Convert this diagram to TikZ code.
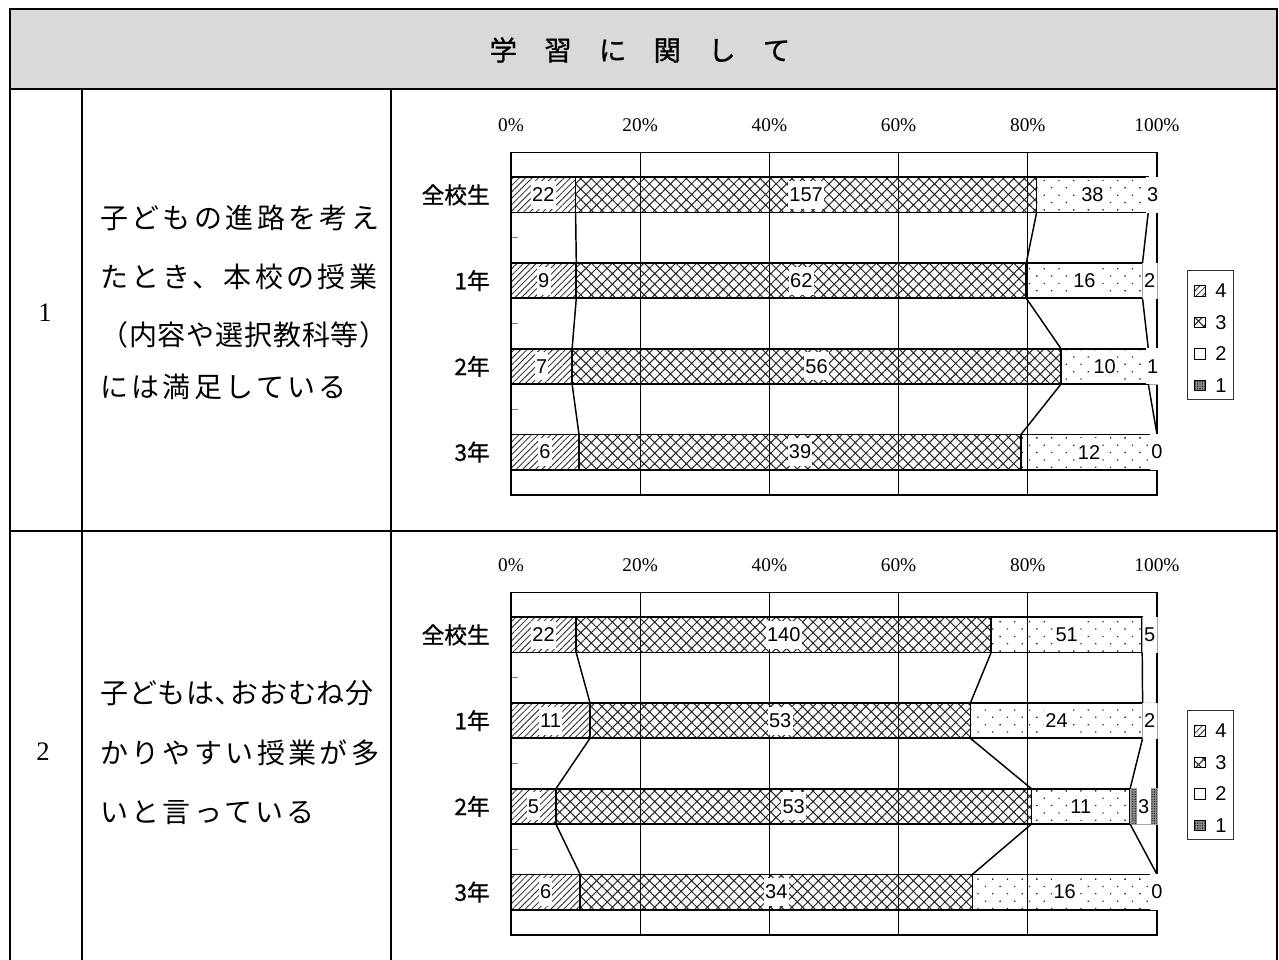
\documentclass[tikz,border=0pt]{standalone}
\usepackage{fontspec}
\setmainfont{Liberation Serif}
\newfontfamily\jpgoth{Noto Sans CJK JP}
\newfontfamily\jpcat[FakeBold=1]{Noto Sans CJK JP}
\newfontfamily\jpbody[LetterSpace=12]{Noto Sans CJK JP}
\newfontfamily\jptight[LetterSpace=3]{Noto Sans CJK JP}
\newfontfamily\numsans{Liberation Sans}
\usetikzlibrary{patterns.meta,positioning}

\begin{document}
\begin{tikzpicture}[x=0.75pt,y=-0.75pt,
  frame/.style={line width=1.5pt},
  grid/.style={line width=0.75pt},
  bar/.style={draw,line width=1.3pt},
  barend/.style={draw=black!35,line width=0.4pt,h1},
  h4/.style={pattern={Lines[angle=45,distance=3.4pt,line width=0.6pt]},pattern color=black!85},
  h3/.style={pattern={Hatch[angle=45,distance=5.6pt,line width=0.75pt]},pattern color=black!85},
  h2/.style={pattern={Dots[angle=45,distance=7.8pt,radius=0.7pt]},pattern color=black!85},
  h1/.style={preaction={fill=black!45},pattern={Dots[distance=1.8pt,radius=0.45pt]},pattern color=black},
  ser/.style={line width=1.1pt},
  pct/.style={font=\fontsize{14.5}{16}\selectfont},
  cat/.style={font=\jpcat\fontsize{17}{18}\selectfont,anchor=east,inner sep=0pt},
  val/.style={font=\numsans\fontsize{15}{16}\selectfont,fill=white,inner xsep=1pt,inner ysep=0pt,minimum height=21pt},
  valend/.style={val,minimum height=27pt},
  key/.style={draw,line width=0.8pt,minimum size=8pt,inner sep=0pt},
  keytxt/.style={font=\numsans\fontsize{15}{16}\selectfont,inner sep=1pt,right=6pt of #1},
  body/.style={font=\jpbody\fontsize{21}{22}\selectfont,anchor=west,inner sep=0pt},
  bodytight/.style={body,font=\jptight\fontsize{21}{22}\selectfont},
  num/.style={font=\fontsize{20}{22}\selectfont}]
\useasboundingbox (0,0) rectangle (1279,960);
\fill[white] (0,0) rectangle (1279,960);
\fill[black!15] (10,9) rectangle (1277,89);
\draw[frame] (10,961) -- (10,9) -- (1277,9) -- (1277,961);
\draw[frame] (10,89) -- (1277,89) (10,531) -- (1277,531) (82,89) -- (82,961) (391,89) -- (391,961);
\node[font=\jpcat\fontsize{20.5}{22}\selectfont] (title) at (640,50) {学　習　に　関　し　て};

\node[num] (no1) at (45,313) {1};
\node[body] (q1a) at (100,218.3) {子どもの進路を考え};
\node[body] (q1b) at (100,276.7) {たとき、本校の授業};
\node[bodytight] (q1c) at (100,335) {（内容や選択教科等）};
\node[body] (q1d) at (100,386.7) {には満足している};
\node[num] (no2) at (43,752) {2};
\node[bodytight] (q2a) at (100,692.7) {子どもは､おおむね分};
\node[body] (q2b) at (100,752.3) {かりやすい授業が多};
\node[body] (q2c) at (100,813) {いと言っている};

\begin{scope}
\draw[grid] (640.2,152.3) -- (640.2,495) (769.4,152.3) -- (769.4,495) (898.6,152.3) -- (898.6,495) (1027.8,152.3) -- (1027.8,495);
\draw[grid,black!50] (511,237.75) -- (518,237.75) (511,323.5) -- (518,323.5) (511,409.25) -- (518,409.25);
\draw[line width=1.1pt] (511,152.3) rectangle (1157,495);
\node[pct] (q1p0) at (511,125) {0\%};
\node[pct] (q1p20) at (640.2,125) {20\%};
\node[pct] (q1p40) at (769.4,125) {40\%};
\node[pct] (q1p60) at (898.6,125) {60\%};
\node[pct] (q1p80) at (1027.8,125) {80\%};
\node[pct] (q1p100) at (1157,125) {100\%};
\node[cat] (q1all) at (490,194.9) {全校生};
\node[cat] (q1y1) at (490,280.6) {1年};
\node[cat] (q1y2) at (490,366.4) {2年};
\node[cat] (q1y3) at (490,452.1) {3年};
\draw[bar,h4] (511,177.2) rectangle (575.6,212.6);
\draw[bar,h3] (575.6,177.2) rectangle (1036.6,212.6);
\draw[bar,h2] (1036.6,177.2) rectangle (1148.2,212.6);
\draw[barend] (1148.2,177.2) rectangle (1157,212.6);
\draw[bar,h4] (511,262.9) rectangle (576.3,298.3);
\draw[bar,h3] (576.3,262.9) rectangle (1026.3,298.3);
\draw[bar,h2] (1026.3,262.9) rectangle (1142.5,298.3);
\draw[barend] (1142.5,262.9) rectangle (1157,298.3);
\draw[bar,h4] (511,348.7) rectangle (572.1,384.1);
\draw[bar,h3] (572.1,348.7) rectangle (1061.0,384.1);
\draw[bar,h2] (1061.0,348.7) rectangle (1148.3,384.1);
\draw[barend] (1148.3,348.7) rectangle (1157,384.1);
\draw[bar,h4] (511,434.4) rectangle (579.0,469.8);
\draw[bar,h3] (579.0,434.4) rectangle (1021.0,469.8);
\draw[bar,h2] (1021.0,434.4) rectangle (1157,469.8);
\draw[ser] (575.6,212.6) -- (576.3,262.9) (576.3,298.3) -- (572.1,348.7) (572.1,384.1) -- (579.0,434.4);
\draw[ser] (1036.6,212.6) -- (1026.3,262.9) (1026.3,298.3) -- (1061.0,348.7) (1061.0,384.1) -- (1021.0,434.4);
\draw[ser] (1148.2,212.6) -- (1142.5,262.9) (1142.5,298.3) -- (1148.3,348.7) (1148.3,384.1) -- (1157,434.4);
\node[val] (q1all4) at (543.3,194.9) {22};
\node[val] (q1all3) at (806.1,194.9) {157};
\node[val] (q1all2) at (1092.4,194.9) {38};
\node[valend] (q1all1) at (1152.6,194.9) {3};
\node[val] (q1y14) at (543.7,280.6) {9};
\node[val] (q1y13) at (801.3,280.6) {62};
\node[val] (q1y12) at (1084.4,280.6) {16};
\node[valend] (q1y11) at (1149.8,280.6) {2};
\node[val] (q1y24) at (541.6,366.4) {7};
\node[val] (q1y23) at (816.6,366.4) {56};
\node[val] (q1y22) at (1104.7,366.4) {10};
\node[valend] (q1y21) at (1152.7,366.4) {1};
\node[val] (q1y34) at (545.0,452.1) {6};
\node[val] (q1y33) at (800.0,452.1) {39};
\node[val] (q1y32) at (1089.0,452.1) {12};
\node[valend] (q1y31) at (1157,452.1) {0};
\draw[draw=black!80,line width=0.7pt] (1187.3,270.7) rectangle (1233.3,399);
\node[key,h4] (q1k4) at (1200,291) {};
\node[key,h3] (q1k3) at (1200,322.5) {};
\node[key] (q1k2) at (1200,354) {};
\node[key,h1] (q1k1) at (1200,385.5) {};
\node[keytxt=q1k4] (q1t4) {4};
\node[keytxt=q1k3] (q1t3) {3};
\node[keytxt=q1k2] (q1t2) {2};
\node[keytxt=q1k1] (q1t1) {1};
\end{scope}

\begin{scope}[shift={(0,440)}]
\draw[grid] (640.2,152.3) -- (640.2,495) (769.4,152.3) -- (769.4,495) (898.6,152.3) -- (898.6,495) (1027.8,152.3) -- (1027.8,495);
\draw[grid,black!50] (511,237.75) -- (518,237.75) (511,323.5) -- (518,323.5) (511,409.25) -- (518,409.25);
\draw[line width=1.1pt] (511,152.3) rectangle (1157,495);
\node[pct] (q2p0) at (511,125) {0\%};
\node[pct] (q2p20) at (640.2,125) {20\%};
\node[pct] (q2p40) at (769.4,125) {40\%};
\node[pct] (q2p60) at (898.6,125) {60\%};
\node[pct] (q2p80) at (1027.8,125) {80\%};
\node[pct] (q2p100) at (1157,125) {100\%};
\node[cat] (q2all) at (490,194.9) {全校生};
\node[cat] (q2y1) at (490,280.6) {1年};
\node[cat] (q2y2) at (490,366.4) {2年};
\node[cat] (q2y3) at (490,452.1) {3年};
\draw[bar,h4] (511,177.2) rectangle (576.2,212.6);
\draw[bar,h3] (576.2,177.2) rectangle (991.1,212.6);
\draw[bar,h2] (991.1,177.2) rectangle (1142.2,212.6);
\draw[barend] (1142.2,177.2) rectangle (1157,212.6);
\draw[bar,h4] (511,262.9) rectangle (590.0,298.3);
\draw[bar,h3] (590.0,262.9) rectangle (970.4,298.3);
\draw[bar,h2] (970.4,262.9) rectangle (1142.6,298.3);
\draw[barend] (1142.6,262.9) rectangle (1157,298.3);
\draw[bar,h4] (511,348.7) rectangle (555.9,384.1);
\draw[bar,h3] (555.9,348.7) rectangle (1031.4,384.1);
\draw[bar,h2] (1031.4,348.7) rectangle (1130.1,384.1);
\draw[barend] (1130.1,348.7) rectangle (1157,384.1);
\draw[bar,h4] (511,434.4) rectangle (580.2,469.8);
\draw[bar,h3] (580.2,434.4) rectangle (972.4,469.8);
\draw[bar,h2] (972.4,434.4) rectangle (1157,469.8);
\draw[ser] (576.2,212.6) -- (590.0,262.9) (590.0,298.3) -- (555.9,348.7) (555.9,384.1) -- (580.2,434.4);
\draw[ser] (991.1,212.6) -- (970.4,262.9) (970.4,298.3) -- (1031.4,348.7) (1031.4,384.1) -- (972.4,434.4);
\draw[ser] (1142.2,212.6) -- (1142.6,262.9) (1142.6,298.3) -- (1130.1,348.7) (1130.1,384.1) -- (1157,434.4);
\node[val] (q2all4) at (543.6,194.9) {22};
\node[val] (q2all3) at (783.7,194.9) {140};
\node[val] (q2all2) at (1066.7,194.9) {51};
\node[valend] (q2all1) at (1149.6,194.9) {5};
\node[val] (q2y14) at (550.5,280.6) {11};
\node[val] (q2y13) at (780.2,280.6) {53};
\node[val] (q2y12) at (1056.5,280.6) {24};
\node[valend] (q2y11) at (1149.8,280.6) {2};
\node[val] (q2y24) at (533.5,366.4) {5};
\node[val] (q2y23) at (793.7,366.4) {53};
\node[val] (q2y22) at (1080.8,366.4) {11};
\node[valend] (q2y21) at (1143.6,366.4) {3};
\node[val] (q2y34) at (545.6,452.1) {6};
\node[val] (q2y33) at (776.3,452.1) {34};
\node[val] (q2y32) at (1064.7,452.1) {16};
\node[valend] (q2y31) at (1157,452.1) {0};
\draw[draw=black!80,line width=0.7pt] (1187.3,270.7) rectangle (1233.3,399);
\node[key,h4] (q2k4) at (1200,291) {};
\node[key,h3] (q2k3) at (1200,322.5) {};
\node[key] (q2k2) at (1200,354) {};
\node[key,h1] (q2k1) at (1200,385.5) {};
\node[keytxt=q2k4] (q2t4) {4};
\node[keytxt=q2k3] (q2t3) {3};
\node[keytxt=q2k2] (q2t2) {2};
\node[keytxt=q2k1] (q2t1) {1};
\end{scope}
\end{tikzpicture}
\end{document}
